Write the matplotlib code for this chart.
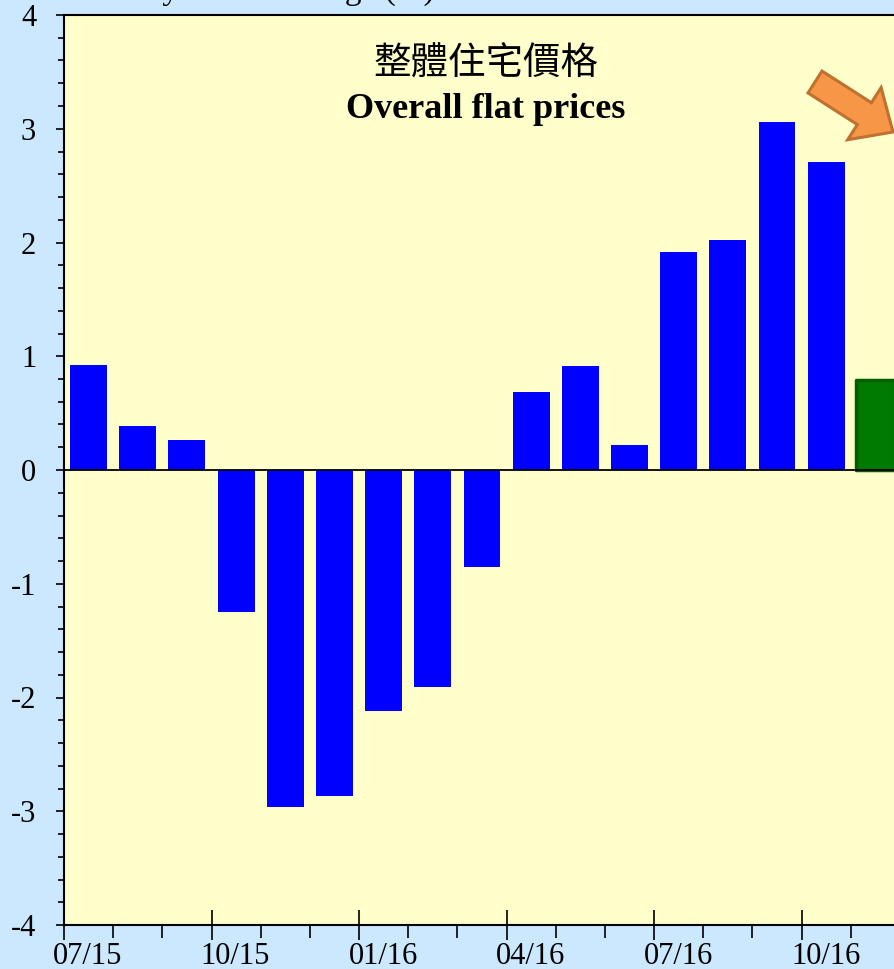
import numpy as np
import matplotlib
matplotlib.use('Agg')
import matplotlib.pyplot as plt
import matplotlib.transforms as mtransforms
from matplotlib.patches import FancyArrow
from matplotlib.ticker import MultipleLocator

plt.rcParams['font.family'] = ['Liberation Serif', 'Noto Sans CJK TC', 'DejaVu Sans']
plt.rcParams['axes.unicode_minus'] = False

# monthly change of overall flat prices (%)
months = ['07/15', '08/15', '09/15', '10/15', '11/15', '12/15',
          '01/16', '02/16', '03/16', '04/16', '05/16', '06/16',
          '07/16', '08/16', '09/16', '10/16']
mom_change = [0.92, 0.39, 0.26, -1.25, -2.96, -2.87,
              -2.12, -1.91, -0.85, 0.69, 0.91, 0.22,
              1.92, 2.02, 3.06, 2.71]
latest_month = '11/16'
latest_change = 0.79

fig = plt.figure(figsize=(8.95, 9.69), dpi=100, facecolor='#CCE8FF')
ax = fig.add_axes([64/895, 44/969, 836/895, 910/969])
ax.set_facecolor('#FFFFCC')

x = np.arange(len(months)) + 0.5
ax.bar(x, mom_change, width=0.75, color='#0000FF', zorder=2)
ax.bar(len(months) + 0.5, latest_change, width=0.78, color='#007A00',
       edgecolor='#006000', linewidth=2.5, joinstyle='round', zorder=2)
ax.axhline(0, color='black', lw=1.3, zorder=3)

ax.set_xlim(0, len(months) + 1)
ax.set_ylim(-4, 4)

ax.set_xticks(np.arange(0, len(months), 3))
ax.set_xticklabels(months[::3])
ax.set_xticks(np.arange(0, len(months) + 2), minor=True)
ax.tick_params(axis='x', which='major', direction='inout', length=22, width=1.2,
               labelsize=22, pad=1)
ax.tick_params(axis='x', which='minor', direction='out', length=9, width=1.2)
offset = mtransforms.ScaledTranslation(24/100, 0, fig.dpi_scale_trans)
for lab in ax.get_xticklabels():
    lab.set_transform(lab.get_transform() + offset)

ax.yaxis.set_major_locator(MultipleLocator(1))
ax.yaxis.set_minor_locator(MultipleLocator(0.2))
ax.tick_params(axis='y', which='major', direction='out', length=6, width=1.2,
               labelsize=22, pad=14)
ax.tick_params(axis='y', which='minor', direction='out', length=4.5, width=1.2)

for s in ['left', 'bottom', 'top']:
    ax.spines[s].set_linewidth(1.5)
ax.spines['right'].set_visible(False)

fig.text(64/895, 1 + 1/969, 'Monthly rate of change (%)', fontsize=24,
         ha='left', va='baseline')
fig.text(486/895, 1 - 64/969, '整體住宅價格', fontsize=27,
         family=['Noto Sans CJK TC'], ha='center', va='center')
fig.text(486/895, 1 - 118/969, 'Overall flat prices', fontsize=26,
         fontweight='bold', ha='center', va='baseline')

arrow = FancyArrow(815, 887, 78, -50, width=26, head_width=62, head_length=34,
                   length_includes_head=True, transform=mtransforms.IdentityTransform(),
                   fc='#F79646', ec='#C0712F', lw=2.2)
fig.add_artist(arrow)

fig.savefig('out.png', dpi=100, facecolor=fig.get_facecolor())
